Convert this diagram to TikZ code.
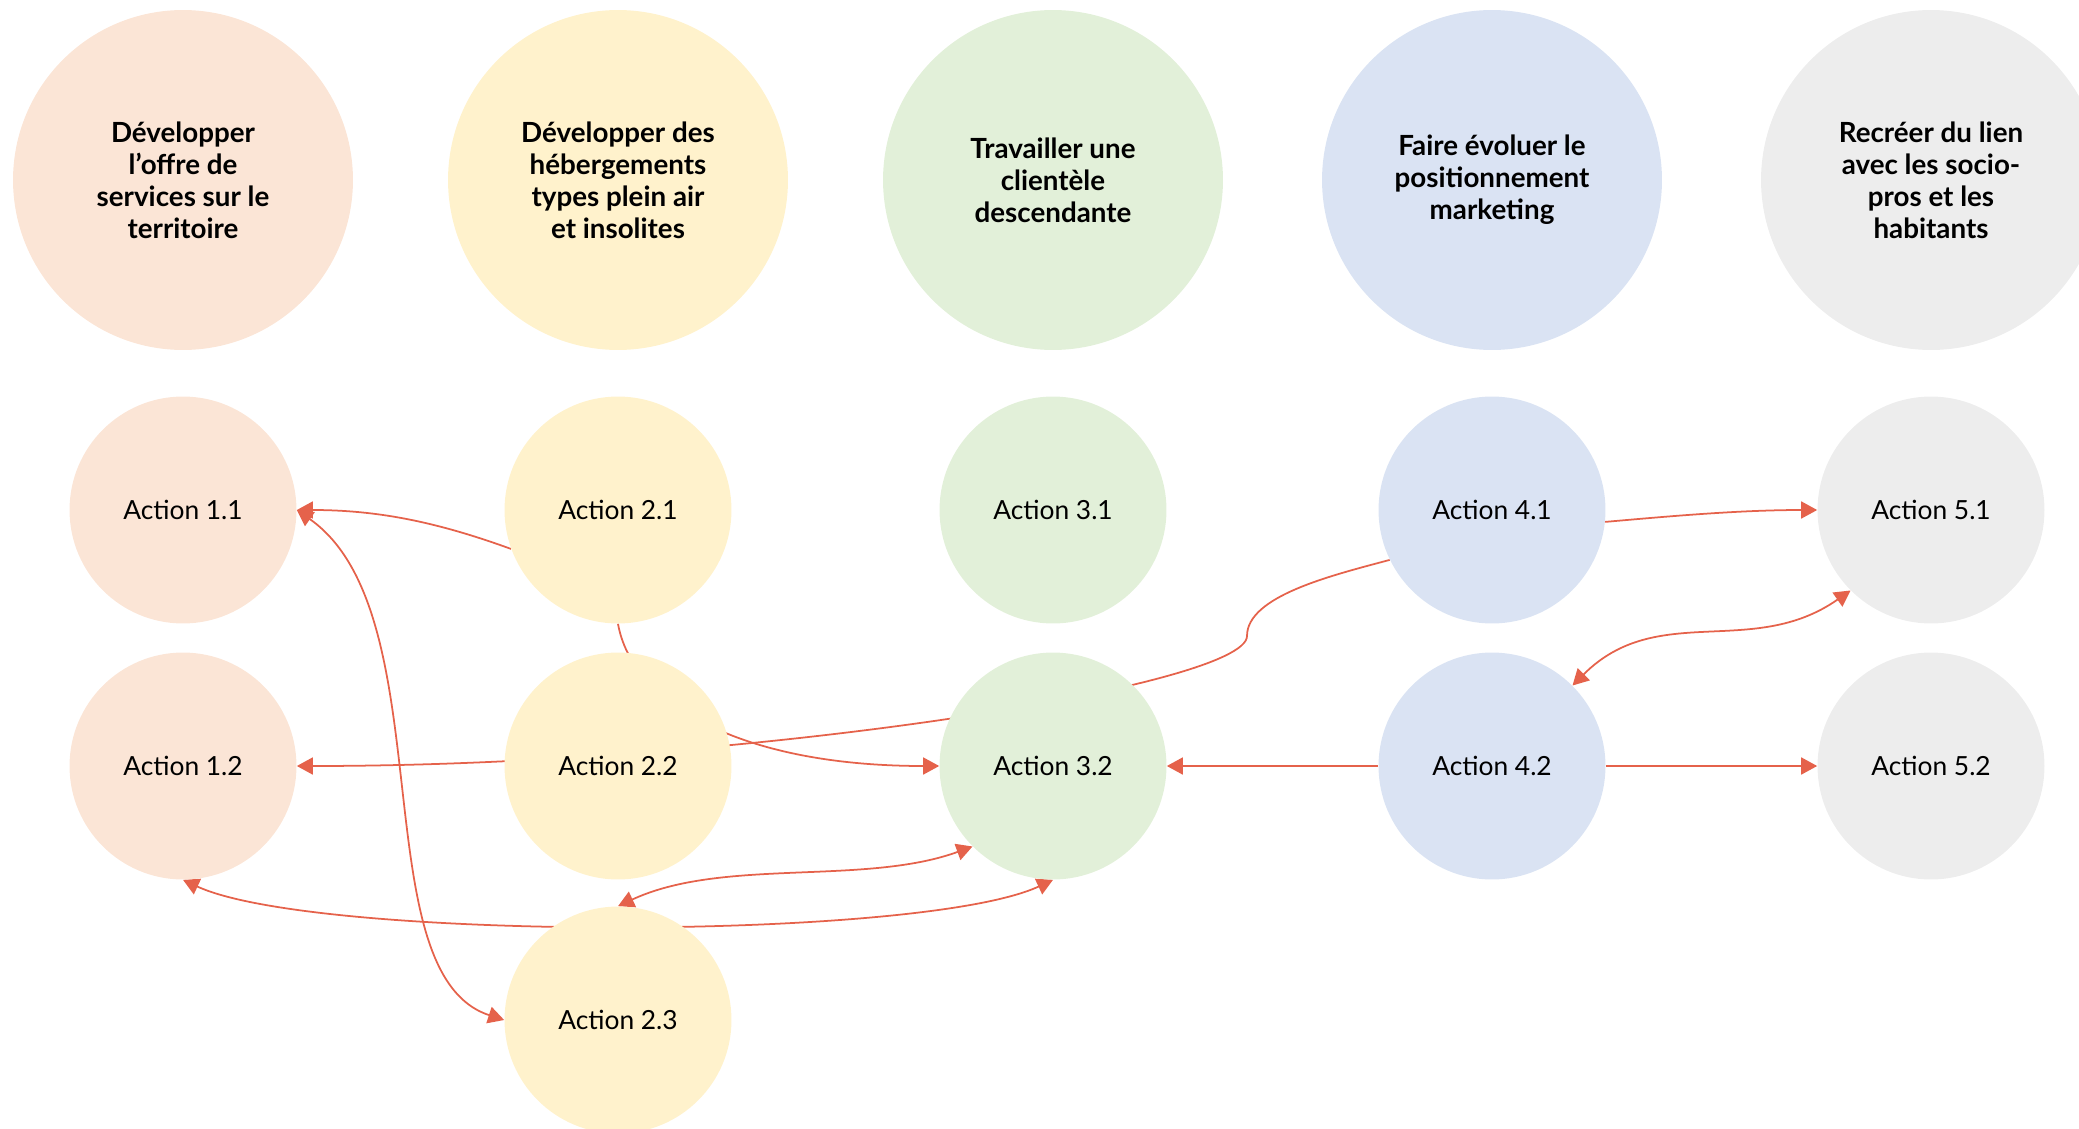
\documentclass[tikz,border=0pt]{standalone}
\usepackage{fontspec}
\setmainfont{Lato}
\usetikzlibrary{arrows.meta,backgrounds}
\definecolor{peche}{HTML}{FBE5D6}
\definecolor{jaune}{HTML}{FFF2CC}
\definecolor{vert}{HTML}{E2F0D9}
\definecolor{bleu}{HTML}{DAE3F3}
\definecolor{gris}{HTML}{EDEDED}
\definecolor{lienrouge}{HTML}{E5624B}

\begin{document}
\begin{tikzpicture}[x=0.02cm, y=0.02cm,
	axe/.style={circle, inner sep=0pt, minimum size=6.8cm, align=center, font=\bfseries\fontsize{15.8}{18.2}\selectfont},
	action/.style={circle, inner sep=0pt, minimum size=4.54cm, font=\fontsize{15}{17}\selectfont},
	lien/.style={draw=lienrouge, line width=1pt, -{Triangle[length=0.32cm, width=0.34cm]}},
	lienab/.style={lien, {Triangle[length=0.32cm, width=0.34cm]}-{Triangle[length=0.32cm, width=0.34cm]}}]
	\path[use as bounding box, clip] (0,0) rectangle (2079,-1129);
	\node[axe, fill=peche] (axe1) at (183,-180) {Développer\\l’offre de\\services sur le\\territoire};
	\node[axe, fill=jaune] (axe2) at (618,-180) {Développer des\\hébergements\\types plein air\\et insolites};
	\node[axe, fill=vert] (axe3) at (1053,-180) {Travailler une\\clientèle\\descendante};
	\node[axe, fill=bleu] (axe4) at (1492,-180) {Faire évoluer le\\positionnement\\marketing};
	\node[axe, fill=gris] (axe5) at (1931,-180) {Recréer du lien\\avec les socio-\\pros et les\\habitants};
	\node[action, fill=peche] (a11) at (183,-510) {Action 1.1};
	\node[action, fill=peche] (a12) at (183,-766) {Action 1.2};
	\node[action, fill=jaune] (a21) at (618,-510) {Action 2.1};
	\node[action, fill=jaune] (a22) at (618,-766) {Action 2.2};
	\node[action, fill=jaune] (a23) at (618,-1020) {Action 2.3};
	\node[action, fill=vert] (a31) at (1053,-510) {Action 3.1};
	\node[action, fill=vert] (a32) at (1053,-766) {Action 3.2};
	\node[action, fill=bleu] (a41) at (1492,-510) {Action 4.1};
	\node[action, fill=bleu] (a42) at (1492,-766) {Action 4.2};
	\node[action, fill=gris] (a51) at (1931,-510) {Action 5.1};
	\node[action, fill=gris] (a52) at (1931,-766) {Action 5.2};
	\coordinate (k41) at (1247,-636);
	\begin{scope}[on background layer]
		\draw[lien] (a21.200) .. controls +(160:80) and +(0:80) .. (a11.east);
		\draw[lienab] (a11.east) .. controls +(-35:180) and +(162:150) .. (a23.west);
		\draw[lien] (a21.south) .. controls +(-80:80) and +(180:200) .. (a32.west);
		\draw[lien] (a41.206) .. controls +(195:60) and +(90:40) .. (k41) .. controls +(-90:50) and +(0:450) .. (a12.east);
		\draw[lienab] (a12.south) .. controls +(-25:145) and +(205:145) .. (a32.south);
		\draw[lienab] (a23.north) .. controls +(25:115) and +(200:115) .. (a32.225);
		\draw[lien] (a42.west) -- (a32.east);
		\draw[lien] (a41.-6) .. controls +(5:60) and +(180:80) .. (a51.west);
		\draw[lien] (a42.east) -- (a52.west);
		\draw[lienab] (a42.45) .. controls +(45:120) and +(215:120) .. (a51.225);
	\end{scope}
\end{tikzpicture}
\end{document}
